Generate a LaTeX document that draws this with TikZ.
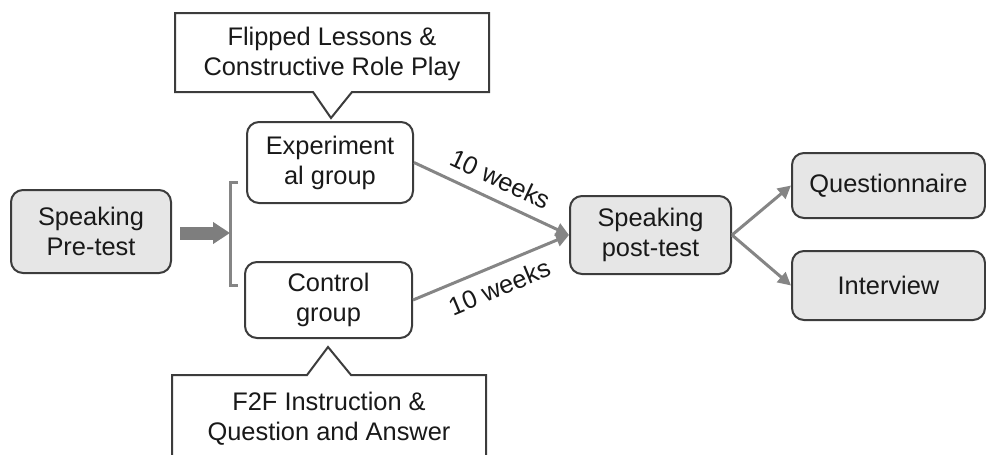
\documentclass[tikz,border=0pt]{standalone}
\usepackage{fontspec}
\setmainfont{Liberation Sans}
\usetikzlibrary{arrows.meta}
\definecolor{boxgray}{HTML}{E6E6E6}
\definecolor{linegray}{HTML}{3C3C3C}
\definecolor{arrgray}{HTML}{858585}
\tikzset{t/.style={font=\fontsize{12.7}{15}\selectfont, text=black!90}}
\tikzset{gb/.style={t, draw=linegray, line width=1pt, fill=boxgray, rounded corners=6pt, align=center, inner sep=0pt}}
\tikzset{wb/.style={gb, fill=white}}
\tikzset{g/.style={draw=arrgray, line width=1.5pt, -{Triangle[length=6.5pt,width=6.5pt]}}}
\tikzset{callout/.style={draw=linegray, line width=1pt, fill=white}}

\begin{document}
\begin{tikzpicture}[x=0.5pt,y=-0.5pt]
  \useasboundingbox (0,0) rectangle (986,455);
  % callouts
  \filldraw [callout] (175,13)--(489,13)--(489,92)--(352,92)--(331,118)--(313,92)--(175,92)--cycle;
  \node [t, align=center] (flip) at (332,54) {Flipped Lessons \&\\Constructive Role Play};
  \filldraw [callout] (172,455)--(172,375)--(307,375)--(328,347)--(351,375)--(486,375)--(486,455);
  \node [t, align=center] (f2f) at (329,419) {F2F Instruction \&\\Question and Answer};
  % boxes
  \node [gb, minimum width=80pt, minimum height=41.5pt] (pre) at (91,231.5) {Speaking\\Pre-test};
  \node [wb, minimum width=83pt, minimum height=40.5pt] (exp) at (330,162.5) {Experiment\\al group};
  \node [wb, minimum width=83.5pt, minimum height=38pt] (ctrl) at (328.5,300) {Control\\group};
  \node [gb, minimum width=80.5pt, minimum height=39pt] (post) at (650.5,235) {Speaking\\post-test};
  \node [gb, minimum width=96.5pt, minimum height=32.5pt] (quest) at (888.5,185.5) {Questionnaire};
  \node [gb, minimum width=96.5pt, minimum height=34.5pt] (intv) at (888.5,285.5) {Interview};
  % bracket and thick arrow
  \coordinate (brk) at (230,233);
  \draw [draw=arrgray, line width=1.5pt] (238,182)--(230,182)--(230,285)--(238,285);
  \draw [draw=arrgray!95!black, line width=6.5pt, shorten <=4pt, -{Triangle[length=8.5pt,width=10.5pt]}] (pre.east |- brk) -- (brk);
  % connectors
  \draw [g] (exp.east) -- node [t, midway, above=2pt, sloped] {10 weeks} (post.west);
  \draw [g] (ctrl.east) -- node [t, midway, below=2pt, sloped] {10 weeks} (post.west);
  \draw [g] (post.east) -- (quest.west);
  \draw [g] (post.east) -- (intv.west);
\end{tikzpicture}
\end{document}
